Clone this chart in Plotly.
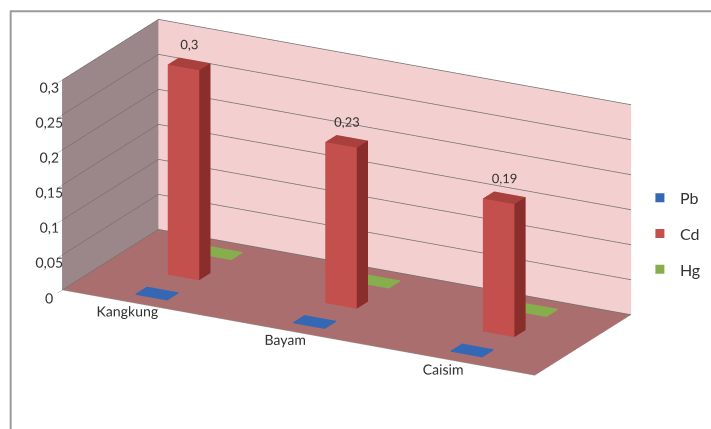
import plotly.graph_objects as go

# ---- data ----
categories = ["Kangkung", "Bayam", "Caisim"]
series_names = ["Pb", "Cd", "Hg"]
pb_values = [0, 0, 0]
cd_values = [0.3, 0.23, 0.19]
hg_values = [0, 0, 0]
z_tick_values = [0, 0.05, 0.1, 0.15, 0.2, 0.25, 0.3]
z_tick_labels = ["0", "0,05", "0,1", "0,15", "0,2", "0,25", "0,3"]

series_values = [pb_values, cd_values, hg_values]
series_colors = {
    "Pb": ("#3468B4", "#2C5A9C", "#244B85"),
    "Cd": ("#C4504D", "#A8403D", "#8A2E2C"),
    "Hg": ("#86AE4C", "#7A9C42", "#64833A"),
}

BW = 0.2   # bar width along category axis
BD = 0.35  # bar depth along series axis
EPS = 0.0015  # draw height for zero values so the flat square is visible


def box(xc, yc, h, name, cols):
    front, top, side = cols
    h = max(h, EPS)
    x0, x1 = xc - BW / 2, xc + BW / 2
    y0, y1 = yc - BD / 2, yc + BD / 2
    xs = [x0, x1, x1, x0, x0, x1, x1, x0]
    ys = [y0, y0, y1, y1, y0, y0, y1, y1]
    zs = [0, 0, 0, 0, h, h, h, h]
    tri = [
        (0, 1, 2), (0, 2, 3),      # bottom
        (4, 5, 6), (4, 6, 7),      # top
        (0, 1, 5), (0, 5, 4),      # front (y0)
        (3, 2, 6), (3, 6, 7),      # back (y1)
        (0, 3, 7), (0, 7, 4),      # left (x0)
        (1, 2, 6), (1, 6, 5),      # right (x1)
    ]
    fc = [front, front, top, top, front, front, side, side, front, front, side, side]
    if h <= EPS:
        fc = [front] * 12
    return go.Mesh3d(
        x=xs, y=ys, z=zs,
        i=[t[0] for t in tri], j=[t[1] for t in tri], k=[t[2] for t in tri],
        facecolor=fc, flatshading=True,
        lighting=dict(ambient=1, diffuse=0, specular=0, roughness=1, fresnel=0),
        showlegend=False, hoverinfo="skip", name=name,
    )


fig = go.Figure()
for si, (sname, vals) in enumerate(zip(series_names, series_values)):
    for ci, v in enumerate(vals):
        fig.add_trace(box(ci, si, v, sname, series_colors[sname]))

# data labels for Cd
fig.add_trace(go.Scatter3d(
    x=list(range(len(categories))), y=[1] * len(categories), z=cd_values,
    mode="text", text=[f"{v:g}".replace(".", ",") for v in cd_values],
    textposition="top center", textfont=dict(size=13, color="#333333", family="Lato"),
    showlegend=False, hoverinfo="skip",
))

# legend entries
for sname in series_names:
    fig.add_trace(go.Scatter3d(
        x=[None], y=[None], z=[None], mode="markers", name=sname, legendgroup=sname,
        marker=dict(symbol="square", size=9, color=series_colors[sname][0]),
    ))

fig.update_layout(
    width=711, height=429,
    margin=dict(l=0, r=0, t=0, b=0),
    paper_bgcolor="white",
    separators=",.",
    font=dict(family="Lato", size=12, color="#333333"),
    showlegend=True,
    legend=dict(x=0.9, y=0.455, xanchor="left", yanchor="middle",
                font=dict(size=16, color="#333333"), bgcolor="rgba(0,0,0,0)",
                tracegroupgap=12, itemwidth=30),
    scene=dict(
        domain=dict(x=[0.02, 0.94], y=[0.0, 1.0]),
        aspectmode="manual",
        aspectratio=dict(x=2.5, y=0.95, z=1.04),
        camera=dict(
            eye=dict(x=0.80, y=-1.55, z=0.54),
            center=dict(x=-0.03, y=0, z=-0.09),
            up=dict(x=0, y=0, z=1),
            projection=dict(type="orthographic"),
        ),
        xaxis=dict(
            range=[-0.5, 2.5], tickvals=list(range(len(categories))), ticktext=categories,
            tickangle=0, ticks="outside", ticklen=30, tickcolor="rgba(0,0,0,0)",
            showgrid=False, showbackground=True, backgroundcolor="#9B878A",
            showline=True, linecolor="#999999", title=dict(text=""),
            tickfont=dict(size=13, color="#333333"), showspikes=False, zeroline=False,
        ),
        yaxis=dict(
            range=[-0.5, 2.5], showticklabels=False, showgrid=False,
            showbackground=True, backgroundcolor="#F4CFCF",
            showline=False, title=dict(text=""), showspikes=False, zeroline=False,
        ),
        zaxis=dict(
            range=[0, 0.3], tickvals=z_tick_values, ticktext=z_tick_labels,
            tickangle=0, ticks="outside", ticklen=4, tickcolor="#999999",
            showgrid=True, gridcolor="#707070", gridwidth=1.5,
            showbackground=True, backgroundcolor="#AA6E6E",
            showline=True, linecolor="#999999", title=dict(text=""),
            tickfont=dict(size=13, color="#333333"), showspikes=False, zeroline=False,
        ),
    ),
    shapes=[
        dict(type="line", xref="paper", yref="paper", x0=0.014, x1=1.0, y0=0.974, y1=0.974,
             line=dict(color="#9A9A9A", width=2)),
        dict(type="line", xref="paper", yref="paper", x0=0.015, x1=0.015, y0=0.0, y1=0.974,
             line=dict(color="#9A9A9A", width=2)),
    ],
)

fig.write_html("out.html")
